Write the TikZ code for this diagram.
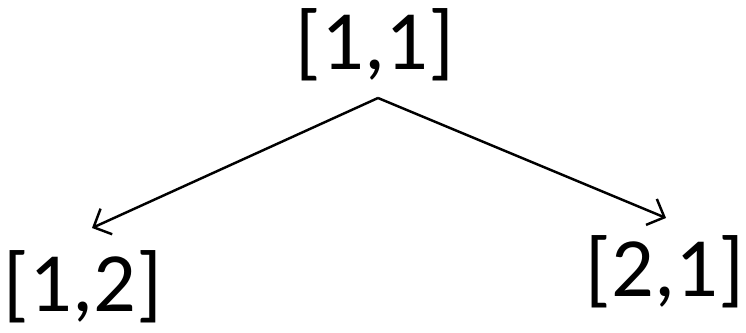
\documentclass[tikz,border=0pt]{standalone}
\usepackage{fontspec}
\setmainfont{Carlito}
\usetikzlibrary{arrows.meta}
\begin{document}
\begin{tikzpicture}[
  lbl/.style={font=\fontsize{24}{28}\selectfont, inner sep=0pt, anchor=base},
  edge/.style={line width=0.7pt, -{Straight Barb[length=4pt,width=8pt]}}
]
\useasboundingbox (0,0) rectangle (7.46,3.33);
\node[lbl] (top) at (3.75,3.33-0.70) {[1,1]};
\node[lbl] (left) at (0.83,3.33-3.12) {[1,2]};
\node[lbl] (right) at (6.65,3.33-2.97) {[2,1]};
\coordinate (s) at (3.78,3.33-0.98);
\coordinate (l) at (0.92,3.33-2.28);
\coordinate (r) at (6.66,3.33-2.18);
\draw[edge] (s) -- (l);
\draw[edge] (s) -- (r);
\end{tikzpicture}
\end{document}
